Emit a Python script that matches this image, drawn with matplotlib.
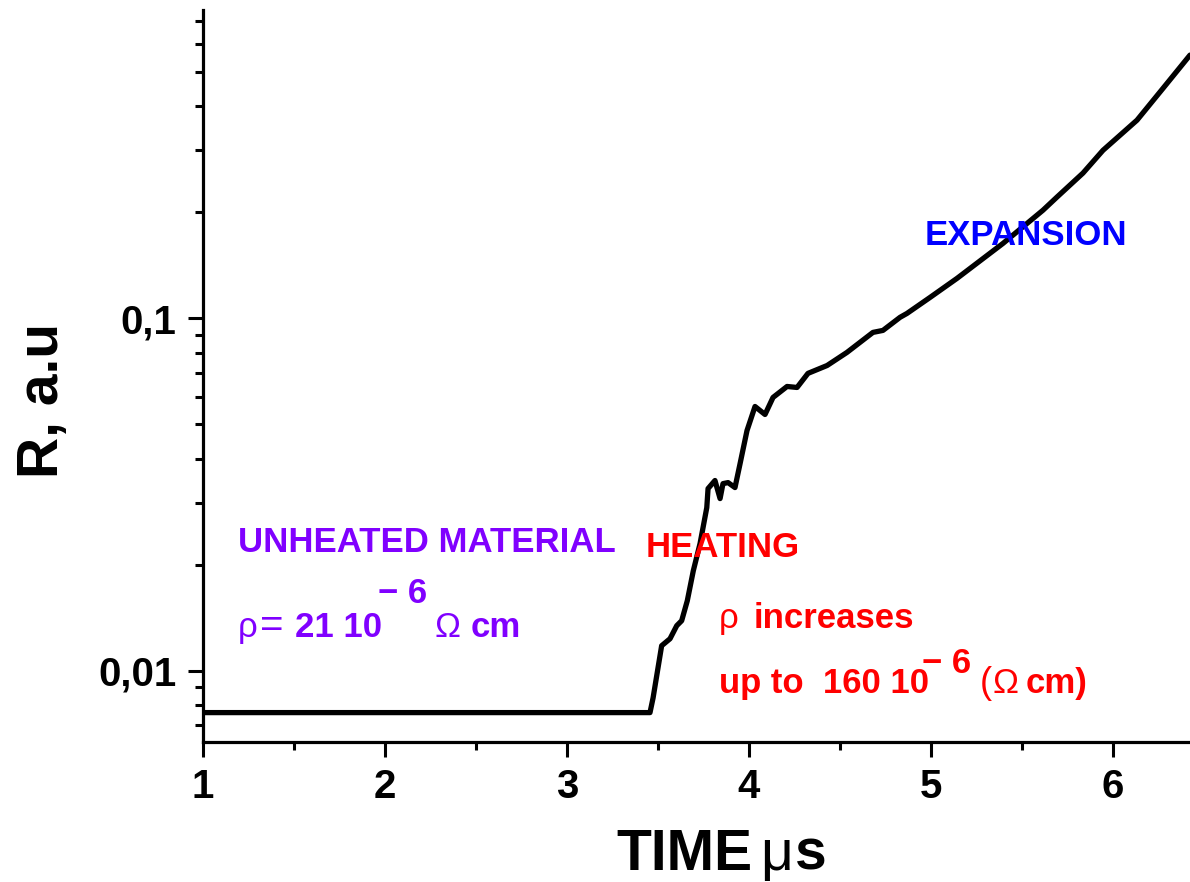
import matplotlib
matplotlib.use("Agg")
import matplotlib.pyplot as plt
from matplotlib.ticker import FixedLocator, FixedFormatter, MultipleLocator, NullFormatter

# ---- data ----
time_us = [1.000, 3.456, 3.473, 3.520, 3.566, 3.603, 3.630, 3.661, 3.694, 3.731,
           3.768, 3.775, 3.813, 3.841, 3.857, 3.885, 3.923, 3.951, 3.989, 4.033,
           4.088, 4.132, 4.209, 4.264, 4.324, 4.429, 4.538, 4.681, 4.736, 4.830,
           4.868, 4.995, 5.143, 5.396, 5.615, 5.692, 5.835, 5.945, 6.132, 6.275,
           6.423]
resistance = [0.00761, 0.00761, 0.00838, 0.01178, 0.01233, 0.01343, 0.01387, 0.01581,
              0.01923, 0.02296, 0.02904, 0.03289, 0.03467, 0.03081, 0.03397, 0.03420,
              0.03311, 0.03873, 0.04805, 0.05623, 0.05337, 0.05966, 0.06409, 0.06368,
              0.06982, 0.07350, 0.08005, 0.09125, 0.09245, 0.1007, 0.1033, 0.1147,
              0.1299, 0.1633, 0.2027, 0.2209, 0.2584, 0.2999, 0.3652, 0.4498, 0.5586]

x_major = [1, 2, 3, 4, 5, 6]
y_major = [0.01, 0.1]
y_major_labels = ["0,01", "0,1"]
y_minor = [0.007, 0.008, 0.009, 0.02, 0.03, 0.04, 0.05, 0.06, 0.07, 0.08, 0.09,
           0.2, 0.3, 0.4, 0.5, 0.6, 0.7]

W, H = 1190, 882
plt.rcParams['font.family'] = ['Liberation Sans', 'DejaVu Sans']

fig = plt.figure(figsize=(W / 100, H / 100), dpi=100)
ax = fig.add_axes([203 / W, 1 - 742 / H, (W - 203) / W, (742 - 10) / H])
ax.plot(time_us, resistance, color='black', lw=3.8, solid_joinstyle='round',
        solid_capstyle='round')
ax.set_yscale('log')
ax.set_xlim(1, 6.423)
ax.set_ylim(0.00628, 0.75)

for s in ['top', 'right']:
    ax.spines[s].set_visible(False)
for s in ['left', 'bottom']:
    ax.spines[s].set_linewidth(2.3)

ax.xaxis.set_major_locator(FixedLocator(x_major))
ax.xaxis.set_minor_locator(MultipleLocator(0.5))
ax.set_xticklabels([str(v) for v in x_major])
ax.yaxis.set_major_locator(FixedLocator(y_major))
ax.yaxis.set_major_formatter(FixedFormatter(y_major_labels))
ax.yaxis.set_minor_locator(FixedLocator(y_minor))
ax.yaxis.set_minor_formatter(NullFormatter())

ax.tick_params(which='major', direction='out', length=11, width=2.2,
               labelsize=29, pad=8)
ax.tick_params(which='minor', direction='out', length=6, width=2.2)
for lab in ax.get_xticklabels() + ax.get_yticklabels():
    lab.set_fontweight('bold')


def T(x, y, s, color, size=25, weight='bold', **kw):
    fig.text(x / W, 1 - y / H, s, color=color, fontsize=size, fontweight=weight,
             ha=kw.pop('ha', 'left'), va=kw.pop('va', 'baseline'), **kw)


# axis titles
T(616, 870, 'TIME', 'black', size=41)
T(760, 870, 'μ', 'black', size=41, weight='normal')
T(795, 870, 's', 'black', size=41)
T(70, 400, 'R, a.u', 'black', size=41, rotation=90, ha='right', va='center')

purple = '#8000FF'
red = '#FF0000'
blue = '#0000FF'

T(238, 552, 'UNHEATED MATERIAL', purple)
T(238, 637, 'ρ', purple, weight='normal')
T(260, 637, '=', purple, size=29, weight='normal')
T(295, 637, '21 10', purple)
T(378, 603, '− 6', purple)
T(434, 637, 'Ω', purple, weight='normal')
T(471, 637, 'cm', purple)

T(646, 557, 'HEATING', red)
T(719, 628, 'ρ', red, weight='normal')
T(754, 628, 'increases', red)
T(719, 693, 'up to  160 10', red)
T(922, 673, '− 6', red)
T(980, 693, '(', red, size=26, weight='normal')
T(992, 693, 'Ω', red, weight='normal')
T(1026, 693, 'cm)', red)

T(925, 245, 'EXPANSION', blue)

fig.savefig('out.png', dpi=100)
